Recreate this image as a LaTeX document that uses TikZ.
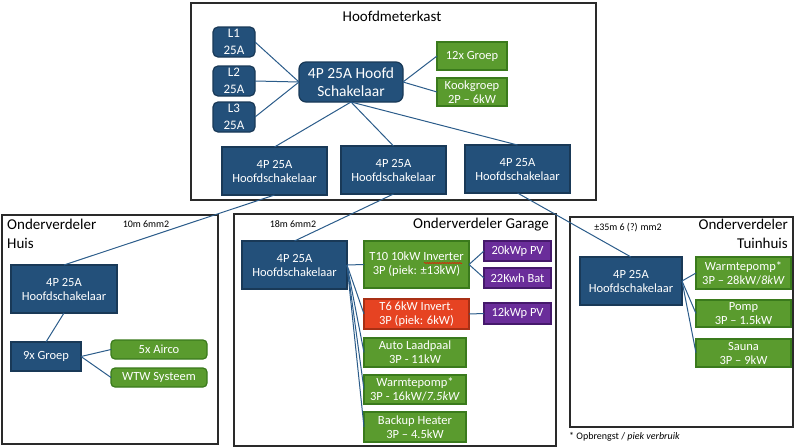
\documentclass[tikz,border=0pt]{standalone}
\usepackage{fontspec}
\setmainfont{Carlito}
\usetikzlibrary{decorations.pathmorphing}
\definecolor{dblue}{HTML}{23507A}
\definecolor{dblueb}{HTML}{193957}
\definecolor{grn}{HTML}{5A9B2E}
\definecolor{grnb}{HTML}{3A7A1C}
\definecolor{rd}{HTML}{E64322}
\definecolor{rdb}{HTML}{A83015}
\definecolor{prp}{HTML}{6A2D9A}
\definecolor{prpb}{HTML}{45196B}
\definecolor{wire}{HTML}{2B5C8A}
\definecolor{frm}{HTML}{2A2A2A}
\tikzset{
  base/.style={inner sep=0pt, outer sep=0pt, align=center, text=white, line width=1.2pt},
  bluebox/.style={base, fill=dblue, draw=dblueb},
  greenbox/.style={base, fill=grn, draw=grnb},
  redbox/.style={base, fill=rd, draw=rdb},
  purplebox/.style={base, fill=prp, draw=prpb},
  rnd/.style={rounded corners=5pt},
  sz/.style 2 args={minimum width=#1pt, minimum height=#2pt},
  frame/.style={draw=frm, line width=1.3pt, fill=none},
  wirel/.style={draw=wire, line width=1pt},
  ttl/.style={font=\fontsize{15}{18.5}\selectfont, inner sep=0pt, text=black},
  lbl/.style={font=\fontsize{10}{12}\selectfont, inner sep=0pt, text=black},
  f12/.style={font=\fontsize{12.5}{14}\selectfont},
}
\begin{document}
\begin{tikzpicture}[x=1pt,y=-1pt]
\useasboundingbox (0,0) rectangle (800,447);
% frames
\draw[frame] (191,3) rectangle (596,200);
\draw[frame] (2,215) rectangle (218,444);
\draw[frame] (234,214) rectangle (556,446);
\draw[frame] (570,217) rectangle (793,427);
% titles
\node[ttl] (tHMK) at (392,16) {Hoofdmeterkast};
\node[ttl, anchor=north west, align=left] (tHuis) at (7,219) {Onderverdeler\\Huis};
\node[ttl, anchor=north east] (tGar) at (549,218) {Onderverdeler Garage};
\node[ttl, anchor=north east, align=right] (tTuin) at (788,219) {Onderverdeler\\Tuinhuis};
\node[lbl] (c1) at (146,224) {10m 6mm2};
\node[lbl] (c2) at (293,224) {18m 6mm2};
\node[lbl] (c3) at (628,228) {±35m 6 (?) mm2};
\node[lbl, anchor=west] (fn) at (569,437) {* Opbrengst / \textit{piek verbruik}};
% Hoofdmeterkast
\node[bluebox, rnd, sz={42}{30}, font=\fontsize{13}{17}\selectfont] (L1) at (234,42) {L1\\25A};
\node[bluebox, rnd, sz={42}{30}, font=\fontsize{13}{17}\selectfont] (L2) at (234,81) {L2\\25A};
\node[bluebox, rnd, sz={42}{30}, font=\fontsize{13}{17}\selectfont] (L3) at (234,117) {L3\\25A};
\node[bluebox, rounded corners=7pt, sz={104}{40}, font=\fontsize{15.5}{18}\selectfont] (main) at (351,82) {4P 25A Hoofd\\Schakelaar};
\node[greenbox, sz={70}{28}, f12] (g12) at (472,56) {12x Groep};
\node[greenbox, sz={70}{28}, f12] (kook) at (472,92) {Kookgroep\\2P – 6kW};
\node[bluebox, sz={105}{48}, f12] (hs1) at (274.5,171) {4P 25A\\Hoofdschakelaar};
\node[bluebox, sz={105}{48}, f12] (hs2) at (393.5,170) {4P 25A\\Hoofdschakelaar};
\node[bluebox, sz={105}{48}, f12] (hs3) at (517.5,169) {4P 25A\\Hoofdschakelaar};
% Huis
\node[bluebox, sz={106}{48}, f12] (huis4p) at (64,289) {4P 25A\\Hoofdschakelaar};
\node[bluebox, sz={70}{29}, f12] (g9) at (46,356.5) {9x Groep};
\node[greenbox, rounded corners=4pt, sz={96}{19}, f12] (airco) at (159,349.5) {5x Airco};
\node[greenbox, rounded corners=4pt, sz={96}{19}, f12] (wtw) at (159,377.5) {WTW Systeem};
% Garage
\node[bluebox, sz={105}{48}, f12] (g4p) at (294.5,265) {4P 25A\\Hoofdschakelaar};
\node[greenbox, sz={105}{47}, f12] (t10) at (416.5,264.5) {T10 10kW Inverter\\3P (piek: ±13kW)};
\node[purplebox, sz={67}{20}, f12] (pv20) at (517.5,251) {20kWp PV};
\node[purplebox, sz={67}{20}, f12] (bat) at (517.5,278) {22Kwh Bat};
\node[redbox, sz={105}{30}, f12] (t6) at (416.5,314) {T6 6kW Invert.\\3P (piek: 6kW)};
\node[purplebox, sz={67}{21}, f12] (pv12) at (517.5,313.5) {12kWp PV};
\node[greenbox, sz={102}{29}, f12] (auto) at (415,352.5) {Auto Laadpaal\\3P - 11kW};
\node[greenbox, sz={102}{29}, f12] (wp) at (415,389.5) {Warmtepomp*\\3P - 16kW/\textit{7.5kW}};
\node[greenbox, sz={102}{30}, f12] (backup) at (415,427) {Backup Heater\\3P – 4.5kW};
% Tuinhuis
\node[bluebox, sz={102}{48}, f12] (t4p) at (631,281) {4P 25A\\Hoofdschakelaar};
\node[greenbox, sz={95}{32}, f12] (twp) at (743.5,273) {Warmtepomp*\\3P – 28kW/\textit{8kW}};
\node[greenbox, sz={95}{27}, f12] (pomp) at (743.5,313.5) {Pomp\\3P – 1.5kW};
\node[greenbox, sz={95}{28}, f12] (sauna) at (743.5,353) {Sauna\\3P – 9kW};
% spellcheck underline
\draw[red, line width=0.5pt, decorate, decoration={snake, amplitude=0.6pt, segment length=2.5pt}] (424,263) -- (462,263);
% connectors
\draw[wirel] (L1.east) -- (main.west);
\draw[wirel] (L2.east) -- (main.west);
\draw[wirel] (L3.east) -- (main.west);
\draw[wirel] (main.east) -- (g12.west);
\draw[wirel] (main.east) -- (kook.west);
\draw[wirel] (main.south) -- (hs1.north);
\draw[wirel] (main.south) -- (hs2.north);
\draw[wirel] (main.south) -- (hs3.north);
\draw[wirel] (hs1.south) -- (huis4p.north);
\draw[wirel] (hs2.south) -- (g4p.north);
\draw[wirel] (hs3.south) -- (t4p.north);
\draw[wirel] (huis4p.south) -- (g9.north);
\draw[wirel] (g9.east) -- (airco.west);
\draw[wirel] (g9.east) -- (wtw.west);
\draw[wirel] (g4p.east) -- (t10.west);
\draw[wirel] (g4p.east) -- (t6.west);
\draw[wirel] (g4p.east) -- (auto.west);
\draw[wirel] (g4p.east) -- (wp.west);
\draw[wirel] (g4p.east) -- (backup.west);
\draw[wirel] (t10.east) -- (pv20.west);
\draw[wirel] (t10.east) -- (bat.west);
\draw[wirel] (t6.east) -- (pv12.west);
\draw[wirel] (t4p.east) -- (twp.west);
\draw[wirel] (t4p.east) -- (pomp.west);
\draw[wirel] (t4p.east) -- (sauna.west);
\end{tikzpicture}
\end{document}
